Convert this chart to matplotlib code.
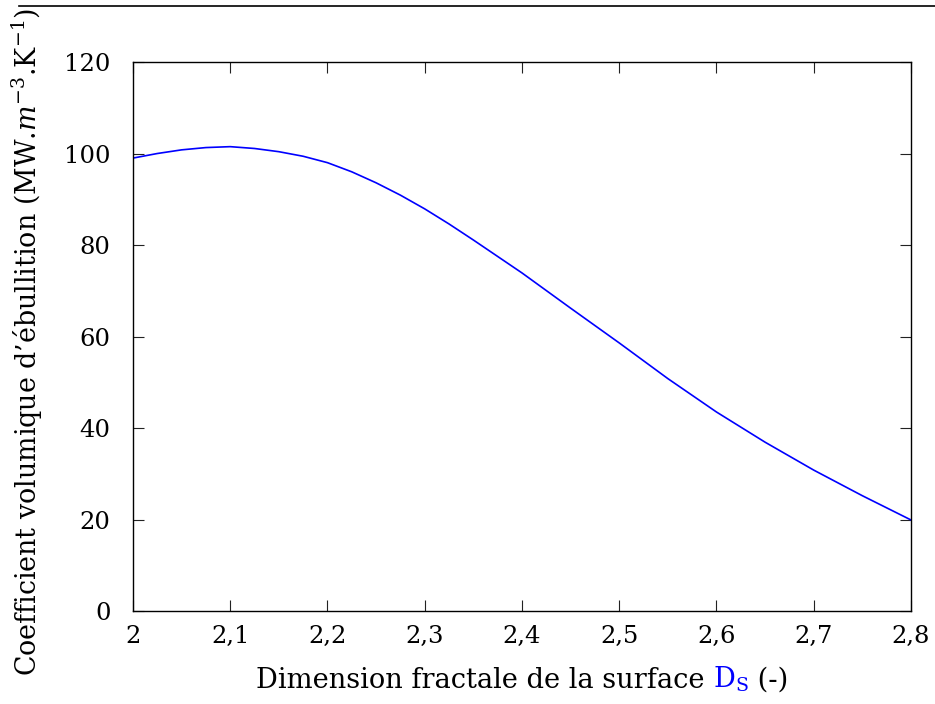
import matplotlib
matplotlib.use("Agg")
import matplotlib.pyplot as plt
from matplotlib.lines import Line2D
from matplotlib.offsetbox import TextArea, HPacker, AnnotationBbox
from matplotlib.ticker import FuncFormatter

# values
ds = [2.0, 2.025, 2.05, 2.075, 2.1, 2.125, 2.15, 2.175, 2.2, 2.225, 2.25,
      2.275, 2.3, 2.325, 2.35, 2.375, 2.4, 2.45, 2.5, 2.55, 2.6, 2.65,
      2.7, 2.75, 2.8]
coef = [99.0, 100.0, 100.8, 101.3, 101.5, 101.1, 100.4, 99.4, 98.0, 96.0, 93.6,
        90.9, 87.9, 84.6, 81.1, 77.5, 73.9, 66.2, 58.6, 50.8, 43.5, 36.9,
        30.8, 25.2, 19.9]

xticks = [2.0, 2.1, 2.2, 2.3, 2.4, 2.5, 2.6, 2.7, 2.8]
yticks = [0, 20, 40, 60, 80, 100, 120]

plt.rcParams['font.family'] = 'DejaVu Serif'
plt.rcParams['mathtext.fontset'] = 'dejavuserif'

fig = plt.figure(figsize=(9.35, 7.04), dpi=100)
ax = fig.add_axes([0.1422, 0.1321, 0.9743 - 0.1422, 0.9119 - 0.1321])

ax.plot(ds, coef, color=(0, 0, 1), lw=1.2)

ax.set_xlim(2.0, 2.8)
ax.set_ylim(0, 120)
ax.set_xticks(xticks)
ax.set_yticks(yticks)
ax.xaxis.set_major_formatter(FuncFormatter(lambda v, p: ('%g' % round(v, 1)).replace('.', ',')))
ax.tick_params(direction='in', length=8, width=0.8, top=True, right=True,
               labelsize=17.5, colors='#222222', labelcolor='black')
ax.tick_params(axis='x', pad=10)
ax.tick_params(axis='y', pad=16)
for s in ax.spines.values():
    s.set_linewidth(1.0)

ax.set_ylabel(r"Coefficient volumique d’ébullition (MW.$m^{-3}$.K$^{-1}$)",
              fontsize=19.4)
ax.yaxis.set_label_coords(-0.113, 0.49)

# x label with blue D_S
fs = 19.6
parts = [TextArea("Dimension fractale de la surface ", textprops=dict(fontsize=fs, color='black')),
         TextArea(r"D$_\mathrm{S}$", textprops=dict(fontsize=fs, color=(0, 0, 1))),
         TextArea(" (-)", textprops=dict(fontsize=fs, color='black'))]
box = HPacker(children=parts, align='baseline', pad=0, sep=0)
ab = AnnotationBbox(box, (0.5, -0.125), xycoords='axes fraction',
                    box_alignment=(0.5, 0.5), frameon=False)
ax.add_artist(ab)

# rule across the top of the page
fig.add_artist(Line2D([0.02, 1.0], [0.992, 0.992], color='black', lw=1.2))

fig.savefig('out.png', dpi=100)
